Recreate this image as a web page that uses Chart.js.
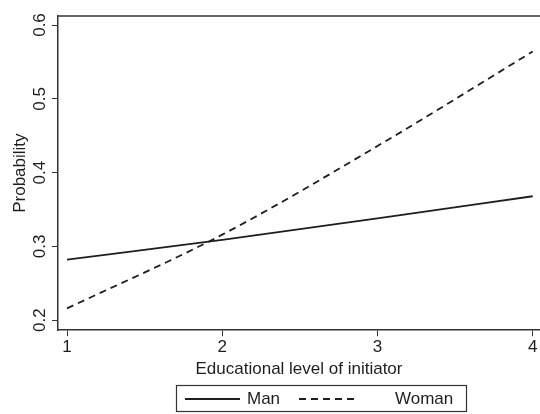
<!DOCTYPE html>
<html><head><meta charset="utf-8">
<script src="https://cdn.jsdelivr.net/npm/chart.js@4"></script>
<style>html,body{margin:0;padding:0;background:#fff;overflow:hidden}</style>
</head><body>
<canvas id="c" width="540" height="414"></canvas>
<script>
const levels = [1, 2, 3, 4];
const manProb = [0.282, 0.309, 0.338, 0.368];
const womanProb = [0.216, 0.316, 0.436, 0.564];
const xTicks = [1, 2, 3, 4];
const yTicks = [0.2, 0.3, 0.4, 0.5, 0.6];
const seriesNames = ['Man', 'Woman'];
const xTitle = 'Educational level of initiator';
const yTitle = 'Probability';

const INK = '#1e1e1e';
const AXIS = '#333';
const FONT = '"Liberation Sans", Arial, Helvetica, sans-serif';
const DASH = [7, 5];

const framePlugin = {
  id: 'frame',
  afterDatasetsDraw(chart) {
    const {ctx, chartArea: a} = chart;
    ctx.save();
    ctx.strokeStyle = AXIS;
    ctx.lineWidth = 1.5;
    ctx.beginPath();
    ctx.moveTo(a.left, a.top);
    ctx.lineTo(a.right, a.top);
    ctx.stroke();
    ctx.restore();
  }
};

const legendBoxPlugin = {
  id: 'legendBox',
  afterDraw(chart) {
    const ctx = chart.ctx;
    const ds = chart.data.datasets;
    ctx.save();
    ctx.strokeStyle = AXIS;
    ctx.lineWidth = 1.2;
    ctx.strokeRect(176.5, 385.5, 290, 26);
    ctx.font = '17px ' + FONT;
    ctx.fillStyle = INK;
    ctx.textBaseline = 'middle';
    const items = [
      {x0: 185, x1: 240, tx: 247},
      {x0: 299, x1: 354, tx: 395}
    ];
    items.forEach((it, i) => {
      ctx.strokeStyle = ds[i].borderColor;
      ctx.lineWidth = ds[i].borderWidth;
      ctx.setLineDash(ds[i].borderDash || []);
      ctx.beginPath();
      ctx.moveTo(it.x0, 399);
      ctx.lineTo(it.x1, 399);
      ctx.stroke();
      ctx.setLineDash([]);
      ctx.fillText(ds[i].label, it.tx, 399);
    });
    ctx.restore();
  }
};

new Chart(document.getElementById('c'), {
  type: 'line',
  data: {
    datasets: [
      {
        label: seriesNames[0],
        data: levels.map((x, i) => ({x, y: manProb[i]})),
        borderColor: INK, borderWidth: 1.8, pointRadius: 0,
        cubicInterpolationMode: 'monotone', fill: false
      },
      {
        label: seriesNames[1],
        data: levels.map((x, i) => ({x, y: womanProb[i]})),
        borderColor: INK, borderWidth: 1.8, borderDash: DASH, pointRadius: 0,
        cubicInterpolationMode: 'monotone', fill: false
      }
    ]
  },
  options: {
    responsive: false,
    animation: false,
    devicePixelRatio: 1,
    layout: {padding: {top: 16, right: 0, left: 0, bottom: 34}},
    plugins: {legend: {display: false}, tooltip: {enabled: false}},
    scales: {
      x: {
        type: 'linear', min: 0.942, max: 4.047,
        afterBuildTicks: s => { s.ticks = xTicks.map(v => ({value: v})); },
        afterFit: s => { s.paddingRight = 0; s.paddingLeft = 0; },
        ticks: {color: INK, font: {family: FONT, size: 17}, padding: 1, callback: v => String(v), maxRotation: 0, autoSkip: false},
        grid: {drawOnChartArea: false, tickLength: 6, color: AXIS, tickColor: AXIS},
        border: {color: AXIS, width: 1.5},
        title: {display: true, text: xTitle, color: INK, font: {family: FONT, size: 17}, padding: {top: 1, bottom: 0}}
      },
      y: {
        type: 'linear', min: 0.1865, max: 0.6122,
        afterBuildTicks: s => { s.ticks = yTicks.map(v => ({value: v})); },
        afterFit: s => { s.width = 58; s.paddingTop = 0; s.paddingBottom = 0; },
        ticks: {color: INK, font: {family: FONT, size: 17}, padding: 0, minRotation: 90, maxRotation: 90, crossAlign: 'center', callback: v => v.toFixed(1), autoSkip: false},
        grid: {drawOnChartArea: false, tickLength: 6, color: AXIS, tickColor: AXIS},
        border: {color: AXIS, width: 1.5},
        title: {display: true, text: yTitle, color: INK, font: {family: FONT, size: 17}, padding: {top: 10, bottom: 0}}
      }
    }
  },
  plugins: [framePlugin, legendBoxPlugin]
});
</script>
</body></html>
